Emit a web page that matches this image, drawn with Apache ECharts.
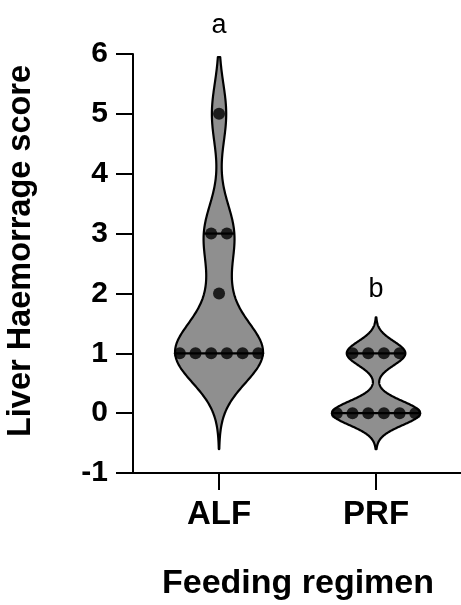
<!DOCTYPE html>
<html>
<head>
<meta charset="utf-8">
<script src="https://cdn.jsdelivr.net/npm/echarts@6/dist/echarts.min.js"></script>
<style>
  html, body { margin: 0; padding: 0; background: #fff; }
  #chart { width: 461px; height: 605px; }
</style>
</head>
<body>
<div id="chart"></div>
<script>
// ---- data ----
const categories = ['ALF', 'PRF'];
const alfScores = [1, 1, 1, 1, 1, 1, 2, 3, 3, 5];
const prfScores = [0, 0, 0, 0, 0, 0, 1, 1, 1, 1];
const bandwidths = [0.5, 0.2];            // kernel bandwidth per group
const violinLow = [-0.6, -0.6];           // violin tail ends
const violinHigh = [5.95, 1.6];
const yTicks = [-1, 0, 1, 2, 3, 4, 5, 6];
const sigLetters = ['a', 'b'];
const sigLetterY = [6.48, 2.07];
const yTitle = 'Liver Haemorrage score';
const xTitle = 'Feeding regimen';

const groups = [alfScores, prfScores];
const FONT = '"Liberation Sans", Arial, Helvetica, sans-serif';
const HALF_MAX = 0.28;   // max half width of a violin in x units
const DOT_STEP = 0.1;    // spacing of dots in a row (x units)

function density(vals, h, y) {
  let s = 0;
  for (const v of vals) { const d = (y - v) / h; s += Math.exp(-0.5 * d * d); }
  return s;
}
function quantile(sorted, p) {
  const n = sorted.length;
  let pos = (n + 1) * p;
  if (pos < 1) pos = 1;
  if (pos > n) pos = n;
  const lo = Math.floor(pos), hi = Math.ceil(pos);
  return sorted[lo - 1] + (pos - lo) * (sorted[hi - 1] - sorted[lo - 1]);
}

// Build violin outlines from data
const violins = groups.map((vals, g) => {
  const h = bandwidths[g];
  const N = 300;
  const ys = [];
  for (let i = 0; i <= N; i++) ys.push(violinLow[g] + (violinHigh[g] - violinLow[g]) * i / N);
  let maxD = 0;
  ys.forEach(y => { maxD = Math.max(maxD, density(vals, h, y)); });
  const halfAt = y => density(vals, h, y) / maxD * HALF_MAX;
  const sorted = vals.slice().sort((a, b) => a - b);
  const qs = [quantile(sorted, 0.25), quantile(sorted, 0.5), quantile(sorted, 0.75)];
  const uniq = [...new Set(qs)];
  return { ys, halfAt, quartiles: uniq };
});

// Dots: rows of equal values, centred on the category
const dots = [];
groups.forEach((vals, g) => {
  const counts = {};
  vals.forEach(v => { counts[v] = (counts[v] || 0) + 1; });
  Object.keys(counts).forEach(k => {
    const n = counts[k];
    for (let i = 0; i < n; i++) dots.push([g + (i - (n - 1) / 2) * DOT_STEP, Number(k)]);
  });
});

const chart = echarts.init(document.getElementById('chart'), null, { renderer: 'canvas' });

chart.setOption({
  animation: false,
  backgroundColor: '#fff',
  grid: { left: 133, right: 0, top: 54, bottom: 132, containLabel: false },
  xAxis: {
    type: 'value',
    min: -0.548, max: 1.541,
    splitLine: { show: false },
    axisLine: { onZero: false, lineStyle: { color: '#000', width: 2 } },
    axisTick: { show: true, customValues: [0, 1], length: 17, lineStyle: { color: '#000', width: 2 } },
    axisLabel: {
      customValues: [0, 1],
      formatter: v => categories[Math.round(v)],
      color: '#000', fontSize: 33, fontWeight: 'bold', fontFamily: FONT, margin: 25
    }
  },
  yAxis: {
    type: 'value',
    min: yTicks[0], max: yTicks[yTicks.length - 1], interval: 1,
    splitLine: { show: false },
    axisLine: { show: true, onZero: false, lineStyle: { color: '#000', width: 2 } },
    axisTick: { show: true, length: 17, lineStyle: { color: '#000', width: 2 } },
    axisLabel: { color: '#000', fontSize: 30, fontWeight: 'bold', fontFamily: FONT, margin: 25 }
  },
  graphic: [
    { type: 'text', x: 21, y: 251, rotation: Math.PI / 2,
      style: { text: yTitle, fill: '#000', font: 'bold 32.5px ' + FONT, textAlign: 'center', textVerticalAlign: 'middle' } },
    { type: 'text', x: 298, y: 584,
      style: { text: xTitle, fill: '#000', font: 'bold 34px ' + FONT, textAlign: 'center', textVerticalAlign: 'middle' } }
  ],
  series: [
    {
      type: 'custom',
      clip: false,
      z: 2,
      data: categories.map((c, i) => [i]),
      renderItem: (params, api) => {
        const g = params.dataIndex;
        const v = violins[g];
        const left = [], right = [];
        v.ys.forEach(y => {
          const hw = v.halfAt(y);
          left.push(api.coord([g - hw, y]));
          right.push(api.coord([g + hw, y]));
        });
        const pts = left.concat(right.reverse());
        const children = [{
          type: 'polygon',
          shape: { points: pts },
          style: { fill: '#8f8f8f', stroke: '#000', lineWidth: 2.2, lineJoin: 'round' }
        }];
        v.quartiles.forEach(q => {
          const hw = v.halfAt(q);
          const p1 = api.coord([g - hw, q]);
          const p2 = api.coord([g + hw, q]);
          children.push({
            type: 'line',
            shape: { x1: p1[0], y1: p1[1], x2: p2[0], y2: p2[1] },
            style: { stroke: '#000', lineWidth: 2.2 }
          });
        });
        return { type: 'group', children };
      }
    },
    {
      type: 'scatter',
      z: 3,
      symbol: 'circle',
      symbolSize: 12,
      itemStyle: { color: '#000' },
      data: dots
    },
    {
      type: 'custom',
      clip: false,
      z: 4,
      data: sigLetters.map((t, i) => [i, sigLetterY[i]]),
      renderItem: (params, api) => {
        const p = api.coord([api.value(0), api.value(1)]);
        return {
          type: 'text',
          x: p[0], y: p[1],
          style: { text: sigLetters[params.dataIndex], fill: '#000', font: '27px ' + FONT, textAlign: 'center', textVerticalAlign: 'middle' }
        };
      }
    }
  ]
});
</script>
</body>
</html>
